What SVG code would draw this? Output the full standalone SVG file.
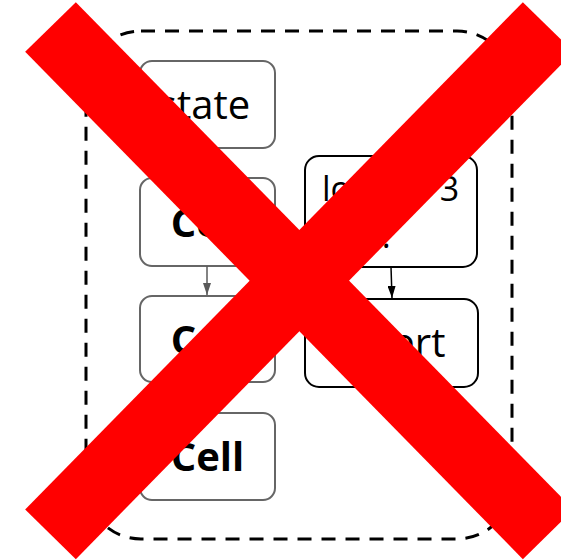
<svg xmlns="http://www.w3.org/2000/svg" width="561" height="560" viewBox="0 0 561 560">
<defs>
<marker id="ahGray" markerWidth="12" markerHeight="8" refX="12" refY="4" orient="auto" markerUnits="userSpaceOnUse" viewBox="0 0 12 8"><path d="M0,0 L12,4 L0,8 Z" fill="#5a5a5a"/></marker>
<marker id="ahBlack" markerWidth="12" markerHeight="8" refX="12" refY="4" orient="auto" markerUnits="userSpaceOnUse" viewBox="0 0 12 8"><path d="M0,0 L12,4 L0,8 Z" fill="#000"/></marker>
</defs>
<style>
.frame{fill:none;stroke:#000;stroke-width:3;stroke-dasharray:14 10}
.gbox{fill:#fff;stroke:#666;stroke-width:2}
.bbox{fill:#fff;stroke:#000;stroke-width:2}
.t{font-family:"Open Sans","Noto Sans",sans-serif;font-size:40px;fill:#000}
.s{font-size:34px}
.b{font-weight:bold}
.gline{stroke:#5a5a5a;stroke-width:1.5;fill:none}
.bline{stroke:#000;stroke-width:1.5;fill:none}
.x{stroke:#ff0000;stroke-width:71;stroke-linecap:butt}
</style>
<rect class="frame" x="86" y="31" width="426" height="508" rx="55" ry="55"/>
<g id="state"><rect class="gbox" x="140" y="61" width="135" height="87" rx="12"/><text class="t" x="204" y="119" text-anchor="middle">state</text></g>
<g id="cell1"><rect class="gbox" x="140" y="178" width="135" height="88" rx="12"/><text class="t b" x="207.5" y="237" text-anchor="middle">Cell</text></g>
<g id="cell2"><rect class="gbox" x="140" y="296" width="135" height="86" rx="12"/><text class="t b" x="207.5" y="354" text-anchor="middle">Cell</text></g>
<g id="cell3"><rect class="gbox" x="140" y="413" width="135" height="87" rx="12"/><text class="t b" x="207.5" y="471" text-anchor="middle">Cell</text></g>
<g id="loop"><rect class="bbox" x="305" y="156" width="172" height="111" rx="14"/><text class="t s"><tspan x="322" y="201">lookup 3</tspan><tspan x="322" y="248">size.</tspan></text></g>
<g id="insert"><rect class="bbox" x="305" y="299" width="173" height="88" rx="14"/><text class="t" x="391.5" y="357" text-anchor="middle">Insert</text></g>
<g id="connectors">
<line class="gline" x1="207" y1="266" x2="207" y2="295" marker-end="url(#ahGray)"/>
<line class="bline" x1="391" y1="267" x2="392" y2="298" marker-end="url(#ahBlack)"/>
</g>
<g id="cross">
<line class="x" x1="50.5" y1="27" x2="548.2" y2="534.3"/>
<line class="x" x1="50.5" y1="534.3" x2="548.2" y2="27"/>
</g>
</svg>
